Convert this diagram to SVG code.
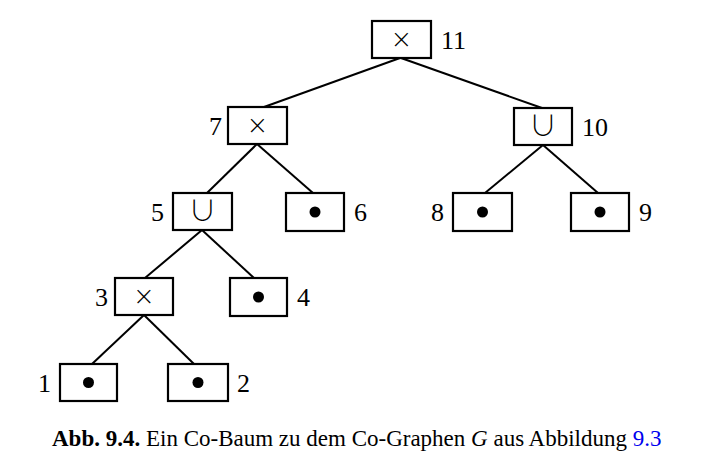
<svg xmlns="http://www.w3.org/2000/svg" width="701" height="466" viewBox="0 0 701 466">
<style>
.box{fill:#fff;stroke:#000;stroke-width:2.2}
.lbl{font-family:"Liberation Serif",serif;font-size:26px;fill:#000}
.sym{font-family:"DejaVu Sans",sans-serif;font-size:26px;fill:#000;text-anchor:middle;font-weight:200}
.uni{font-family:"Noto Sans CJK JP","DejaVu Sans",sans-serif;font-size:28px;fill:#000;text-anchor:middle;font-weight:300}
.dot{fill:#000}
.edge{stroke:#000;stroke-width:2;fill:none}
.cap{font-family:"Liberation Serif",serif;font-size:23px;fill:#000}
</style>
<rect width="701" height="466" fill="#fff"/>
<g id="connectors">
<line class="edge" x1="400" y1="58" x2="264" y2="107"/>
<line class="edge" x1="401" y1="58" x2="542" y2="108"/>
<line class="edge" x1="257" y1="144" x2="207" y2="193"/>
<line class="edge" x1="257" y1="144" x2="313" y2="193"/>
<line class="edge" x1="543" y1="145" x2="485" y2="193"/>
<line class="edge" x1="543" y1="145" x2="598" y2="193"/>
<line class="edge" x1="202" y1="230" x2="145" y2="278"/>
<line class="edge" x1="202" y1="230" x2="254" y2="278"/>
<line class="edge" x1="144" y1="315" x2="92" y2="364"/>
<line class="edge" x1="144" y1="315" x2="194" y2="364"/>
</g>
<g id="n11"><rect class="box" x="372" y="21" width="59" height="37"/><text class="sym" x="401.5" y="48">×</text><text class="lbl" x="441" y="49">11</text></g>
<g id="n7"><rect class="box" x="228" y="107" width="59" height="37"/><text class="sym" x="257.5" y="134">×</text><text class="lbl" x="209" y="135">7</text></g>
<g id="n10"><rect class="box" x="514" y="108" width="58" height="37"/><text class="uni" x="543" y="136">∪</text><text class="lbl" x="582" y="136">10</text></g>
<g id="n5"><rect class="box" x="173" y="193" width="59" height="37"/><text class="uni" x="202.5" y="221">∪</text><text class="lbl" x="151" y="221">5</text></g>
<g id="n6"><rect class="box" x="286" y="193" width="58" height="38"/><circle class="dot" cx="315" cy="212" r="5.5"/><text class="lbl" x="354" y="221">6</text></g>
<g id="n8"><rect class="box" x="453" y="193" width="59" height="38"/><circle class="dot" cx="482.5" cy="212" r="5.5"/><text class="lbl" x="431" y="221">8</text></g>
<g id="n9"><rect class="box" x="571" y="193" width="58" height="38"/><circle class="dot" cx="600" cy="212" r="5.5"/><text class="lbl" x="639" y="221">9</text></g>
<g id="n3"><rect class="box" x="115" y="278" width="58" height="37"/><text class="sym" x="144" y="305">×</text><text class="lbl" x="95" y="306">3</text></g>
<g id="n4"><rect class="box" x="230" y="278" width="57" height="38"/><circle class="dot" cx="258.5" cy="297" r="5.5"/><text class="lbl" x="297" y="306">4</text></g>
<g id="n1"><rect class="box" x="60" y="364" width="57" height="37"/><circle class="dot" cx="88.5" cy="382.5" r="5.5"/><text class="lbl" x="38" y="392">1</text></g>
<g id="n2"><rect class="box" x="168" y="364" width="60" height="37"/><circle class="dot" cx="198" cy="382.5" r="5.5"/><text class="lbl" x="237" y="392">2</text></g>
<text class="cap" x="52" y="446"><tspan font-weight="bold">Abb. 9.4.</tspan> Ein Co-Baum zu dem Co-Graphen <tspan font-style="italic">G</tspan> aus Abbildung <tspan fill="#0000ee">9.3</tspan></text>
</svg>
